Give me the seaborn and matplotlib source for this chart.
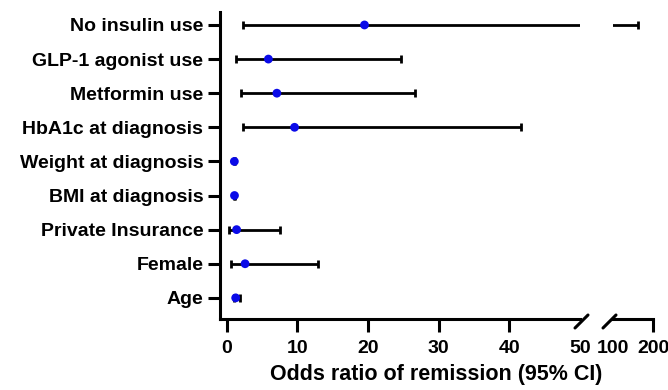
import numpy as np
import pandas as pd
import matplotlib
matplotlib.use("Agg")
import matplotlib.pyplot as plt
from matplotlib.lines import Line2D
import seaborn as sns

# ---- data ----
labels = ["No insulin use", "GLP-1 agonist use", "Metformin use", "HbA1c at diagnosis",
          "Weight at diagnosis", "BMI at diagnosis", "Private Insurance", "Female", "Age"]
odds = [19.5, 5.9, 7.1, 9.6, 1.08, 1.1, 1.4, 2.6, 1.27]
ci_low = [2.35, 1.3, 2.0, 2.26, 1.04, 1.06, 0.33, 0.56, 1.05]
ci_high = [162.0, 24.7, 26.6, 41.7, 1.12, 1.14, 7.6, 12.9, 1.95]
left_ticks = [0, 10, 20, 30, 40, 50]
right_ticks = [100, 200]

df = pd.DataFrame({"label": labels, "odds": odds, "lo": ci_low, "hi": ci_high})
df["pos"] = np.arange(len(df))

sns.set_style("ticks")
plt.rcParams["font.family"] = ["Liberation Sans", "DejaVu Sans"]
plt.rcParams["font.weight"] = "bold"
for k in ("text.color", "xtick.color", "ytick.color", "axes.edgecolor", "axes.labelcolor"):
    plt.rcParams[k] = "black"

W, H = 668, 390
fig = plt.figure(figsize=(W / 100, H / 100), dpi=100)

bottom = (H - 319) / H
height = (319 - 12) / H
axL = fig.add_axes([220 / W, bottom, 360 / W, height])
axR = fig.add_axes([613 / W, bottom, 40 / W, height])

lw = 2.0
blue = "#0a0ae8"
for ax in (axL, axR):
    ax.errorbar(df["odds"], df["pos"],
                xerr=[df["odds"] - df["lo"], df["hi"] - df["odds"]],
                fmt="none", ecolor="black", elinewidth=lw, capsize=2.7, capthick=2.0,
                zorder=2)
    sns.scatterplot(data=df, x="odds", y="pos", ax=ax, color=blue, s=40,
                    edgecolor="none", zorder=3, legend=False)
    ax.set_ylim(8.62, -0.38)
    ax.set_xlabel("")
    ax.set_ylabel("")
    for s in ("top", "right"):
        ax.spines[s].set_visible(False)
    ax.spines["bottom"].set_linewidth(2.2)
    ax.spines["left"].set_linewidth(2.2)
    ax.tick_params(axis="x", length=9, width=2.2, pad=6, labelsize=14, colors="black")
    ax.tick_params(axis="y", length=9, width=2.2, pad=3, labelsize=14, colors="black")

axL.set_xlim(-0.95, 50)
axL.set_xticks(left_ticks)
axL.set_xticklabels([str(t) for t in left_ticks])
axL.set_yticks(df["pos"])
axL.set_yticklabels(df["label"])
axL.xaxis.get_major_ticks()[-1].tick1line.set_visible(False)

axR.set_xlim(100, 200)
axR.set_xticks(right_ticks)
axR.set_xticklabels([str(t) for t in right_ticks])
axR.xaxis.get_major_ticks()[0].tick1line.set_visible(False)
axR.spines["left"].set_visible(False)
axR.set_yticks([])

for lab in axL.get_xticklabels() + axL.get_yticklabels() + axR.get_xticklabels():
    lab.set_fontweight("bold")

# axis-break slashes
def slash(x_px, y_px):
    xs = [(x_px - 5) / W, (x_px + 8) / W]
    ys = [(H - (y_px + 9)) / H, (H - (y_px - 4)) / H]
    fig.add_artist(Line2D(xs, ys, transform=fig.transFigure, color="black", lw=2.2))

slash(580, 319)
slash(608, 319)

fig.text(436 / W, 5 / H, "Odds ratio of remission (95% CI)", ha="center", va="bottom",
         fontsize=15.5, fontweight="bold", color="black")

fig.savefig("out.png", dpi=100)
